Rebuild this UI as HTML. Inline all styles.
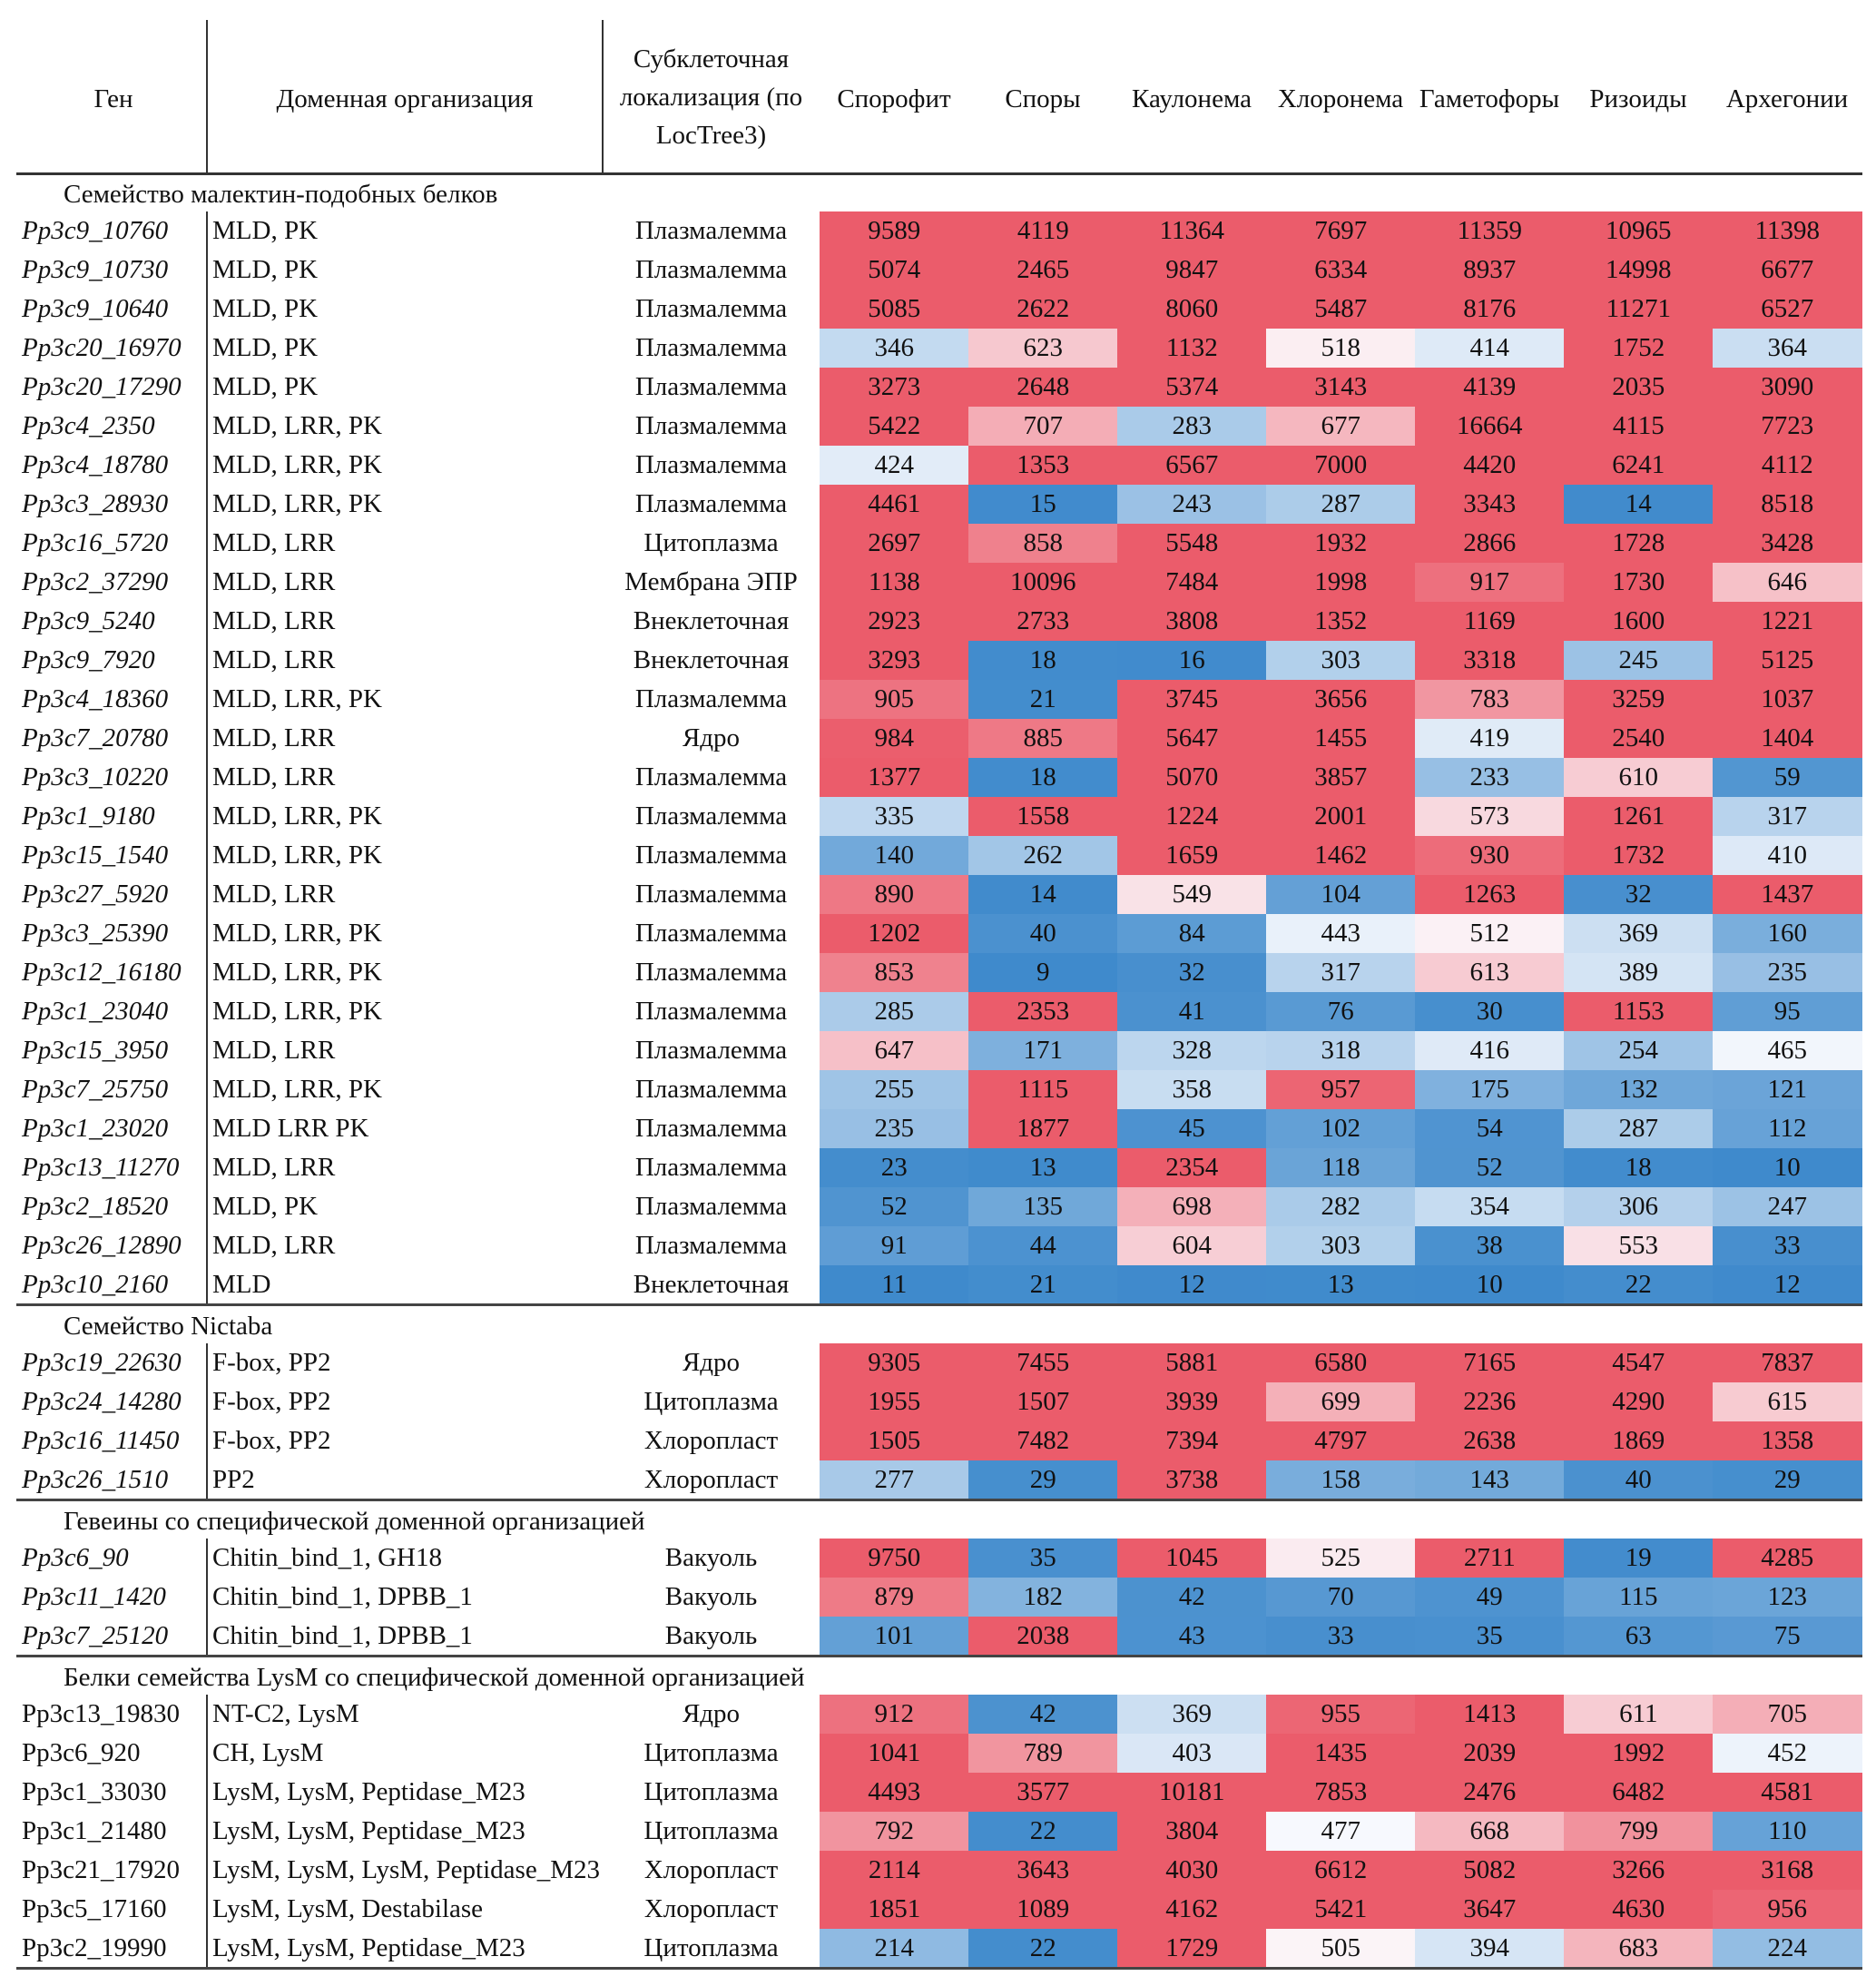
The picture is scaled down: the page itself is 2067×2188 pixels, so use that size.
<!DOCTYPE html>
<html><head><meta charset="utf-8">
<style>
html,body{margin:0;padding:0;background:#fff;}
#root{position:relative;width:2067px;height:2188px;overflow:hidden;font-family:"Liberation Serif","Noto Serif CJK SC",serif;font-size:29px;color:#111;}
.t{position:absolute;white-space:nowrap;line-height:43px;}
.c{text-align:center;}
.hl{position:absolute;background:#333;}
.cell{position:absolute;text-align:center;line-height:43px;}
</style></head>
<body>
<div id="root"></div>
<script>
const columns = ["Спорофит","Споры","Каулонема","Хлоронема","Гаметофоры","Ризоиды","Архегонии"];
const sectionTitles = ["Семейство малектин-подобных белков","Семейство Nictaba","Гевеины со специфической доменной организацией","Белки семейства LysM со специфической доменной организацией"];
const sectionItalic = [true,true,true,false];
const genes = [
["Pp3c9_10760","Pp3c9_10730","Pp3c9_10640","Pp3c20_16970","Pp3c20_17290","Pp3c4_2350","Pp3c4_18780","Pp3c3_28930","Pp3c16_5720","Pp3c2_37290","Pp3c9_5240","Pp3c9_7920","Pp3c4_18360","Pp3c7_20780","Pp3c3_10220","Pp3c1_9180","Pp3c15_1540","Pp3c27_5920","Pp3c3_25390","Pp3c12_16180","Pp3c1_23040","Pp3c15_3950","Pp3c7_25750","Pp3c1_23020","Pp3c13_11270","Pp3c2_18520","Pp3c26_12890","Pp3c10_2160"],
["Pp3c19_22630","Pp3c24_14280","Pp3c16_11450","Pp3c26_1510"],
["Pp3c6_90","Pp3c11_1420","Pp3c7_25120"],
["Pp3c13_19830","Pp3c6_920","Pp3c1_33030","Pp3c1_21480","Pp3c21_17920","Pp3c5_17160","Pp3c2_19990"]];
const domains = [
["MLD, PK","MLD, PK","MLD, PK","MLD, PK","MLD, PK","MLD, LRR, PK","MLD, LRR, PK","MLD, LRR, PK","MLD, LRR","MLD, LRR","MLD, LRR","MLD, LRR","MLD, LRR, PK","MLD, LRR","MLD, LRR","MLD, LRR, PK","MLD, LRR, PK","MLD, LRR","MLD, LRR, PK","MLD, LRR, PK","MLD, LRR, PK","MLD, LRR","MLD, LRR, PK","MLD LRR  PK","MLD, LRR","MLD, PK","MLD, LRR","MLD"],
["F-box, PP2","F-box, PP2","F-box, PP2","PP2"],
["Chitin_bind_1, GH18","Chitin_bind_1, DPBB_1","Chitin_bind_1, DPBB_1"],
["NT-C2, LysM","CH, LysM","LysM, LysM, Peptidase_M23","LysM, LysM, Peptidase_M23","LysM, LysM, LysM, Peptidase_M23","LysM, LysM, Destabilase","LysM, LysM, Peptidase_M23"]];
const locs = [
["Плазмалемма","Плазмалемма","Плазмалемма","Плазмалемма","Плазмалемма","Плазмалемма","Плазмалемма","Плазмалемма","Цитоплазма","Мембрана ЭПР","Внеклеточная","Внеклеточная","Плазмалемма","Ядро","Плазмалемма","Плазмалемма","Плазмалемма","Плазмалемма","Плазмалемма","Плазмалемма","Плазмалемма","Плазмалемма","Плазмалемма","Плазмалемма","Плазмалемма","Плазмалемма","Плазмалемма","Внеклеточная"],
["Ядро","Цитоплазма","Хлоропласт","Хлоропласт"],
["Вакуоль","Вакуоль","Вакуоль"],
["Ядро","Цитоплазма","Цитоплазма","Цитоплазма","Хлоропласт","Хлоропласт","Цитоплазма"]];
const values = [
[[9589,4119,11364,7697,11359,10965,11398],[5074,2465,9847,6334,8937,14998,6677],[5085,2622,8060,5487,8176,11271,6527],[346,623,1132,518,414,1752,364],[3273,2648,5374,3143,4139,2035,3090],[5422,707,283,677,16664,4115,7723],[424,1353,6567,7000,4420,6241,4112],[4461,15,243,287,3343,14,8518],[2697,858,5548,1932,2866,1728,3428],[1138,10096,7484,1998,917,1730,646],[2923,2733,3808,1352,1169,1600,1221],[3293,18,16,303,3318,245,5125],[905,21,3745,3656,783,3259,1037],[984,885,5647,1455,419,2540,1404],[1377,18,5070,3857,233,610,59],[335,1558,1224,2001,573,1261,317],[140,262,1659,1462,930,1732,410],[890,14,549,104,1263,32,1437],[1202,40,84,443,512,369,160],[853,9,32,317,613,389,235],[285,2353,41,76,30,1153,95],[647,171,328,318,416,254,465],[255,1115,358,957,175,132,121],[235,1877,45,102,54,287,112],[23,13,2354,118,52,18,10],[52,135,698,282,354,306,247],[91,44,604,303,38,553,33],[11,21,12,13,10,22,12]],
[[9305,7455,5881,6580,7165,4547,7837],[1955,1507,3939,699,2236,4290,615],[1505,7482,7394,4797,2638,1869,1358],[277,29,3738,158,143,40,29]],
[[9750,35,1045,525,2711,19,4285],[879,182,42,70,49,115,123],[101,2038,43,33,35,63,75]],
[[912,42,369,955,1413,611,705],[1041,789,403,1435,2039,1992,452],[4493,3577,10181,7853,2476,6482,4581],[792,22,3804,477,668,799,110],[2114,3643,4030,6612,5082,3266,3168],[1851,1089,4162,5421,3647,4630,956],[214,22,1729,505,394,683,224]]];

const root = document.getElementById('root');
const ROW = 43, X0 = 903, CW = (2051-903)/7;
const RED=[235,92,107], BLUE=[63,138,204], WHITE=[252,252,255], MID=490, RMAX=990;
function colorOf(v){
  let c, t;
  if(v>=MID){ t=Math.min(1,(v-MID)/(RMAX-MID)); t=Math.pow(t,0.85); c=RED; }
  else { t=Math.min(1,(MID-v)/(MID-10)); c=BLUE; }
  const m=WHITE.map((w,i)=>Math.round(w+(c[i]-w)*t));
  return `rgb(${m[0]},${m[1]},${m[2]})`;
}
function xOf(col){ return X0 + col*CW; }
function mk(cls, txt, style){
  const d=document.createElement('div');
  d.className=cls; if(txt!==null) d.textContent=txt;
  Object.assign(d.style, style);
  root.appendChild(d); return d;
}
let h;
h=mk('t c','Ген',{left:'0px',top:'88px',width:'250px'});


h=mk('t c','Доменная организация',{left:'228px',top:'88px',width:'436px'});


h=mk('t c','',{left:'664px',top:'44px',width:'239px',lineHeight:'42px'});
h.innerHTML='Субклеточная<br>локализация (по<br>LocTree3)';


columns.forEach((n,i)=>{
  const e=mk('t c',n,{left:(xOf(i)-10)+'px',top:'88px',width:(CW+20)+'px'});
  
  
});
let v;
v=mk('hl',null,{left:'227px',top:'22px',width:'2px',height:'170px'});


v=mk('hl',null,{left:'663px',top:'22px',width:'2px',height:'170px'});


v=mk('hl',null,{left:'18px',top:'190px',width:'2034px',height:'3px'});



let y=190;
values.forEach((sec,s)=>{
  const tt=mk('t',sectionTitles[s],{left:'70px',top:(y+3)+'px'});
  
  
  y+=ROW;
  const top=y;
  sec.forEach((row,r)=>{
    const g=mk('t',genes[s][r],{left:'24px',top:y+'px',fontStyle:sectionItalic[s]?'italic':'normal'});
    
    
    const d=mk('t',domains[s][r],{left:'234px',top:y+'px'});
    
    
    const l=mk('t c',locs[s][r],{left:'664px',top:y+'px',width:'239px'});
    
    
    row.forEach((val,c)=>{
      const cell=mk('cell',String(val),{left:xOf(c)+'px',top:y+'px',width:(CW+0.6)+'px',height:(ROW+0.5)+'px',background:colorOf(val)});
      
      
    });
    y+=ROW;
  });
  const vl=mk('hl',null,{left:'227px',top:top+'px',width:'2px',height:(y-top)+'px'});
  
  
  const hr=mk('hl',null,{left:'18px',top:(y-1)+'px',width:'2034px',height:'3px',background:'#444'});
  
  
});
</script>
</body></html>
